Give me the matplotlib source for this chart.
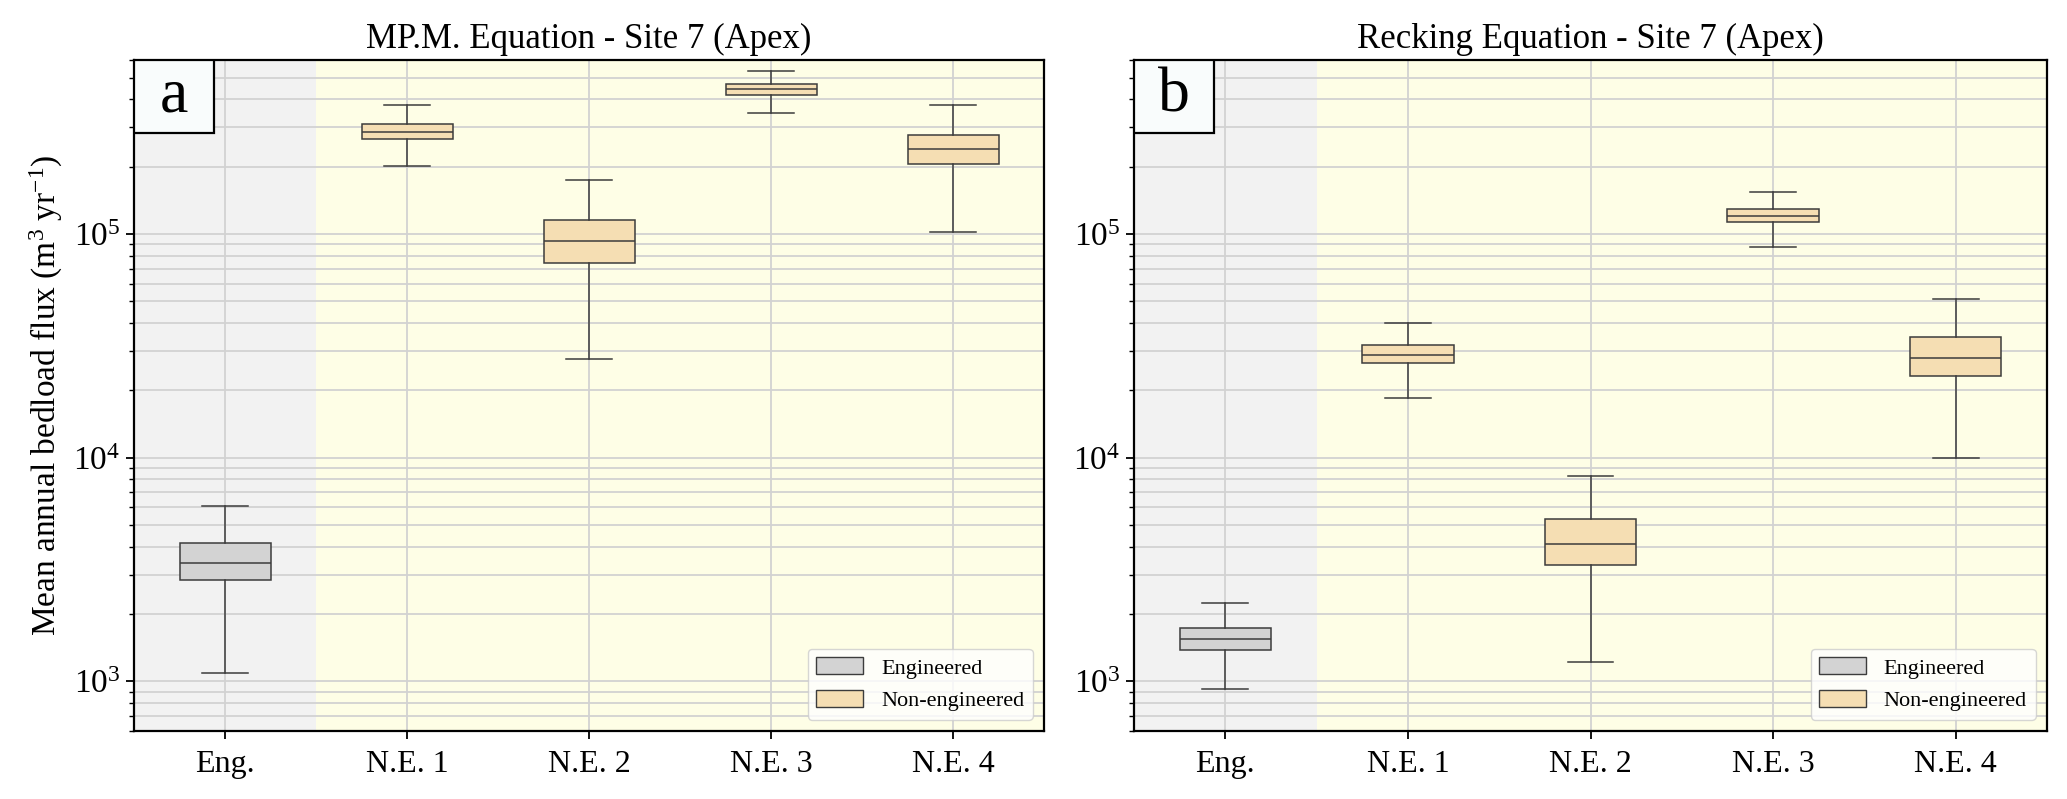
import matplotlib
matplotlib.use('Agg')
import matplotlib.pyplot as plt
import numpy as np
from matplotlib.patches import Patch, Rectangle
from matplotlib.ticker import LogLocator, NullFormatter

plt.rcParams['font.family'] = ['Liberation Serif', 'DejaVu Serif']
plt.rcParams['mathtext.fontset'] = 'custom'
plt.rcParams['mathtext.rm'] = 'Liberation Serif'
plt.rcParams['mathtext.it'] = 'Liberation Serif:italic'
plt.rcParams['mathtext.bf'] = 'Liberation Serif:bold'

# categories
labels = ['Eng.', 'N.E. 1', 'N.E. 2', 'N.E. 3', 'N.E. 4']
titles = ['MP.M. Equation - Site 7 (Apex)', 'Recking Equation - Site 7 (Apex)']
panel_tags = ['a', 'b']

# box statistics (m3/yr): whislo, q1, median, q3, whishi
mpm_whislo = [1090, 2.02e5, 2.77e4, 3.49e5, 1.02e5]
mpm_q1     = [2830, 2.66e5, 7.42e4, 4.17e5, 2.06e5]
mpm_med    = [3390, 2.87e5, 9.27e4, 4.43e5, 2.39e5]
mpm_q3     = [4160, 3.11e5, 1.15e5, 4.69e5, 2.76e5]
mpm_whishi = [6100, 3.77e5, 1.75e5, 5.36e5, 3.78e5]

rec_whislo = [925, 1.84e4, 1225, 8.78e4, 9970]
rec_q1     = [1375, 2.64e4, 3300, 1.127e5, 2.31e4]
rec_med    = [1540, 2.89e4, 4120, 1.203e5, 2.78e4]
rec_q3     = [1725, 3.18e4, 5340, 1.30e5, 3.45e4]
rec_whishi = [2245, 3.99e4, 8260, 1.545e5, 5.11e4]

eng_color = '#d3d3d3'
ne_color = '#f5deb3'
edge = '#3c3c3c'


def make_stats(lo, q1, med, q3, hi):
    out = []
    for i in range(len(labels)):
        out.append(dict(label=labels[i], whislo=lo[i], q1=q1[i], med=med[i],
                        q3=q3[i], whishi=hi[i], fliers=[]))
    return out


all_stats = [make_stats(mpm_whislo, mpm_q1, mpm_med, mpm_q3, mpm_whishi),
             make_stats(rec_whislo, rec_q1, rec_med, rec_q3, rec_whishi)]

fig = plt.figure(figsize=(20.67, 7.99), dpi=100)
lefts = [134/2067, 1134/2067]
widths = [910/2067, 913/2067]
bottom = 1 - 731/799
height = (731 - 60)/799

for k in range(2):
    ax = fig.add_axes([lefts[k], bottom, widths[k], height])
    ax.set_yscale('log')
    # background regions
    ax.axvspan(-0.5, 0.5, color='#f2f2f2', zorder=0, lw=0)
    ax.axvspan(0.5, 4.5, color='#fefee6', zorder=0, lw=0)

    bp = ax.bxp(all_stats[k], positions=range(len(labels)), widths=0.5,
                patch_artist=True, showfliers=False,
                boxprops=dict(edgecolor=edge, linewidth=1.1),
                medianprops=dict(color=edge, linewidth=1.1),
                whiskerprops=dict(color=edge, linewidth=1.1),
                capprops=dict(color=edge, linewidth=1.1))
    for i, box in enumerate(bp['boxes']):
        box.set_facecolor(eng_color if i == 0 else ne_color)
        box.set_zorder(3)
    for key in ['medians', 'whiskers', 'caps']:
        for ln in bp[key]:
            ln.set_zorder(4)

    ax.set_xlim(-0.5, 4.5)
    ax.set_ylim(600, 6e5)
    ax.yaxis.set_major_locator(LogLocator(base=10, numticks=10))
    ax.yaxis.set_minor_locator(LogLocator(base=10, subs=np.arange(2, 10), numticks=20))
    ax.yaxis.set_minor_formatter(NullFormatter())
    ax.grid(True, which='both', axis='y', color='#d2d2d2', linewidth=1.3, zorder=1)
    ax.grid(True, which='major', axis='x', color='#d2d2d2', linewidth=1.3, zorder=1)
    ax.set_axisbelow(True)

    ax.tick_params(axis='x', labelsize=23, length=6, width=1.3, pad=8)
    ax.tick_params(axis='y', which='major', labelsize=24, length=6, width=1.3, pad=4)
    ax.tick_params(axis='y', which='minor', length=3.5, width=1.0)
    for sp in ax.spines.values():
        sp.set_linewidth(1.6)
        sp.set_color('black')

    ax.set_title(titles[k], fontsize=25, pad=9)
    if k == 0:
        ax.set_ylabel('Mean annual bedload flux (m$^3$ yr$^{-1}$)', fontsize=24, labelpad=6)

    # panel tag box
    bw = 80/910
    bh = 73/671
    ax.add_patch(Rectangle((0, 1 - bh), bw, bh, transform=ax.transAxes,
                           facecolor='#f9fcfc', edgecolor='black', linewidth=1.6, zorder=6))
    ax.text(bw/2, 1 - bh/2, panel_tags[k], transform=ax.transAxes, ha='center',
            va='center', fontsize=46, zorder=7)

    handles = [Patch(facecolor=eng_color, edgecolor=edge, label='Engineered'),
               Patch(facecolor=ne_color, edgecolor=edge, label='Non-engineered')]
    leg = ax.legend(handles=handles, loc='lower right', fontsize=16,
                    handlelength=2.1, handleheight=0.8, borderaxespad=0.5)
    leg.set_zorder(8)

fig.savefig('out.png', dpi=100)
